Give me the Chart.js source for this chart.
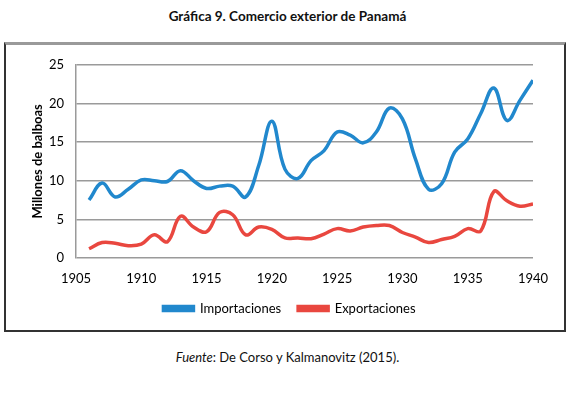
<!DOCTYPE html>
<html>
<head>
<meta charset="utf-8">
<script src="https://cdn.jsdelivr.net/npm/chart.js@4/dist/chart.umd.min.js"></script>
<style>
  html, body { margin:0; padding:0; background:#fff; width:575px; height:395px; overflow:hidden; }
  #title { position:absolute; left:0; width:575px; top:8px; text-align:center; font:bold 13.5px Lato, sans-serif; color:#111; }
  #frame { position:absolute; left:4px; top:42px; width:558px; height:285px; border:2px solid #333; border-top:3px solid #9a9a9a; }
  #frame canvas { position:absolute; left:0; top:0; }
  #note { position:absolute; left:0; width:575px; top:349px; text-align:center; font:13px Lato, sans-serif; color:#111; }
</style>
</head>
<body>
<div id="title">Gráfica 9. Comercio exterior de Panamá</div>
<div id="frame"><canvas id="c" width="558" height="285"></canvas></div>
<div id="note"><i>Fuente</i>: De Corso y Kalmanovitz (2015).</div>
<script>
const years = [1906,1907,1908,1909,1910,1911,1912,1913,1914,1915,1916,1917,1918,1919,1920,1921,1922,1923,1924,1925,1926,1927,1928,1929,1930,1931,1932,1933,1934,1935,1936,1937,1938,1939,1940];
const importaciones = [7.5,9.7,7.9,8.9,10.1,10.0,9.9,11.3,10.0,9.0,9.3,9.3,7.9,12.0,17.7,11.5,10.3,12.6,13.9,16.3,15.9,14.9,16.3,19.4,18.0,12.8,8.9,9.6,13.7,15.4,18.7,22.0,17.8,20.4,23.0];
const exportaciones = [1.2,2.0,1.9,1.6,1.8,3.0,2.1,5.4,4.0,3.4,5.9,5.6,3.0,4.0,3.7,2.6,2.6,2.5,3.1,3.8,3.5,4.0,4.2,4.2,3.3,2.7,2.0,2.4,2.8,3.8,3.5,8.6,7.4,6.7,7.0];
const seriesNames = ['Importaciones','Exportaciones'];
const xTicks = [1905,1910,1915,1920,1925,1930,1935,1940];
const yTicks = [0,5,10,15,20,25];
const yTitle = 'Millones de balboas';

const toPts = arr => years.map((y,i)=>({x:y, y:arr[i]}));
const FONT = 'Lato, sans-serif';

const legendShift = {
  id:'legendShift',
  afterLayout(chart){ if (chart.legend) { chart.legend.left += 20; chart.legend.right += 20; } }
};

new Chart(document.getElementById('c'), {
  type: 'line',
  data: {
    datasets: [
      { label: seriesNames[0], data: toPts(importaciones), borderColor:'#2188cd', backgroundColor:'#2188cd', borderWidth:3.5, pointRadius:0, tension:0.4, fill:false },
      { label: seriesNames[1], data: toPts(exportaciones), borderColor:'#e9473f', backgroundColor:'#e9473f', borderWidth:3.5, pointRadius:0, tension:0.4, fill:false }
    ]
  },
  plugins:[legendShift],
  options: {
    responsive:false,
    animation:false,
    layout:{ padding:{ left:0, right:31, top:17, bottom:5 } },
    plugins:{
      title:{display:false},
      tooltip:{enabled:false},
      legend:{
        position:'bottom',
        labels:{ boxWidth:30, boxHeight:4, padding:17, color:'#000', font:{family:FONT, size:13} }
      }
    },
    scales:{
      x:{
        type:'linear', min:1905, max:1940,
        afterBuildTicks: s => { s.ticks = xTicks.map(v=>({value:v})); },
        afterFit: s => { s.height = 27; },
        ticks:{ padding:13, color:'#000', font:{family:FONT, size:13}, maxRotation:0, callback: v => String(v) },
        grid:{ display:false, drawTicks:false },
        border:{ display:false }
      },
      y:{
        min:0, max:25,
        afterBuildTicks: s => { s.ticks = yTicks.map(v=>({value:v})); },
        afterFit: s => { s.width = 70; },
        ticks:{ padding:12, color:'#000', font:{family:FONT, size:13}, callback: v => String(v) },
        grid:{ color:'#9a9a9a', lineWidth:1.5, drawTicks:false },
        border:{ display:true, color:'#9a9a9a', width:1.5 },
        title:{ display:true, text:yTitle, color:'#000', font:{family:FONT, size:13, weight:'bold'}, padding:{top:24, bottom:0} }
      }
    }
  }
});
</script>
</body>
</html>
